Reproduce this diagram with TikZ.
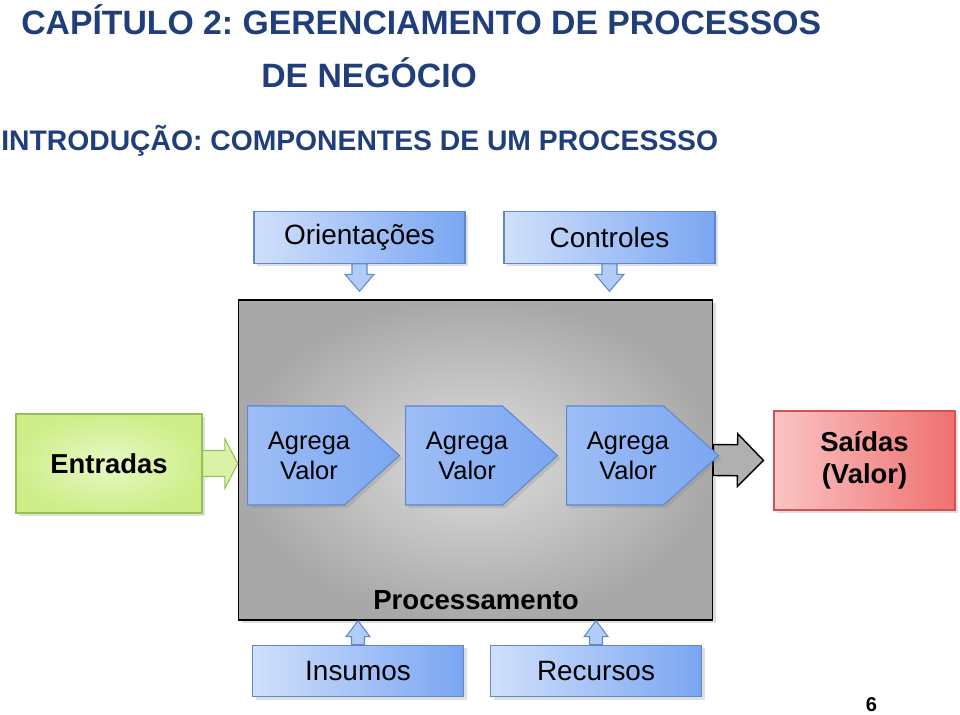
\documentclass[tikz,border=0pt]{standalone}
\usepackage{fontspec}
\setmainfont{Liberation Sans}
\usepackage{tikz}
\usetikzlibrary{calc,shapes.symbols,shadows}
\frenchspacing
\definecolor{titleblue}{RGB}{32,62,122}
\definecolor{boxlight}{RGB}{208,224,251}
\definecolor{boxdark}{RGB}{122,166,242}
\definecolor{boxline}{RGB}{95,135,205}
\definecolor{chevleft}{RGB}{158,190,245}
\definecolor{arrfill}{RGB}{178,204,248}
\definecolor{greenlight}{RGB}{232,248,196}
\definecolor{greendark}{RGB}{206,238,138}
\definecolor{greenline}{RGB}{150,192,82}
\definecolor{redlight}{RGB}{250,196,196}
\definecolor{reddark}{RGB}{240,112,112}
\definecolor{redline}{RGB}{210,82,82}
\tikzset{
  ttl/.style={anchor=base west,inner sep=0pt,text=titleblue,font=\bfseries\fontsize{19.2}{22}\selectfont},
  subttl/.style={anchor=base west,inner sep=0pt,text=titleblue,font=\bfseries\fontsize{16.1}{19}\selectfont},
  shd/.style={drop shadow={opacity=0.25,shadow xshift=0.6mm,shadow yshift=-0.6mm}},
  bbox/.style={rectangle,draw=boxline,semithick,left color=boxlight,right color=boxdark,
    minimum width=42.2mm,minimum height=10.3mm,font=\fontsize{15.9}{19}\selectfont,shd},
  procbox/.style={rectangle,draw=black,thick,inner color=gray!26,outer color=gray!68,
    minimum width=94.8mm,minimum height=64mm,shd},
  inbox/.style={rectangle,draw=greenline,semithick,inner color=greenlight,outer color=greendark,
    minimum width=37.2mm,minimum height=19.8mm,font=\bfseries\fontsize{15.6}{19}\selectfont,shd},
  outbox/.style={rectangle,draw=redline,semithick,left color=redlight,right color=reddark,
    minimum width=36.2mm,minimum height=19.8mm,align=center,
    font=\bfseries\fontsize{15.6}{18.5}\selectfont,shd},
  chev/.style={signal,signal to=east,signal pointer angle=84,draw=boxline,semithick,
    left color=chevleft,middle color=boxlight,right color=boxdark,anchor=west,
    minimum width=30.4mm,minimum height=19.8mm,inner sep=0pt,shd,
    label={[chevtxt]center:Agrega\\Valor}},
  chevtxt/.style={align=center,xshift=2.6mm,inner sep=0pt,font=\fontsize{14.5}{17}\selectfont},
  plbl/.style={anchor=base,inner sep=0pt,font=\bfseries\fontsize{15.7}{18}\selectfont},
  barr/.style={draw=boxline,semithick,fill=arrfill},
  earr/.style={draw=greenline,semithick,fill=greendark!75!white},
  garr/.style={draw=black,thick,fill=gray!62}
}
% block arrow: style, from, to, half stem, half head, head length
\newcommand{\blockarr}[6]{%
  \coordinate (bah) at ($(#3)!#6!(#2)$);
  \draw[#1] ($(#2)!#4!90:(#3)$) -- ($(bah)!#4!90:(#3)$) -- ($(bah)!#5!90:(#3)$)
    -- (#3) -- ($(bah)!#5!-90:(#3)$) -- ($(bah)!#4!-90:(#3)$)
    -- ($(#2)!#4!-90:(#3)$) -- cycle;
}

\begin{document}
\begin{tikzpicture}[x=0.2mm,y=-0.2mm]
\useasboundingbox (0,0) rectangle (960,714);
% titles
\node[ttl] (t1) at (21,35) {CAPÍTULO 2: GERENCIAMENTO DE PROCESSOS};
\node[ttl] (t2) at (261,87) {DE NEGÓCIO};
\node[subttl] (t3) at (1,150) {INTRODUÇÃO: COMPONENTES DE UM PROCESSSO};
% processing block
\node[procbox] (proc) at (475.5,460) {};
\node[plbl] (plabel) at (476,609) {Processamento};
% top inputs
\node[bbox] (ori) at (359.5,237.5) {Orientações};
\node[bbox] (con) at (609.5,237.5) {Controles};
\coordinate (oritip) at ($(ori.south |- proc.north)+(0,-8)$);
\coordinate (contip) at ($(con.south |- proc.north)+(0,-8)$);
\blockarr{barr}{ori.south}{oritip}{1.5mm}{2.9mm}{3.4mm}
\blockarr{barr}{con.south}{contip}{1.5mm}{2.9mm}{3.4mm}
% entradas / saidas
\node[inbox] (ent) at (109,463.5) {Entradas};
\blockarr{earr}{ent.east}{ent.east -| proc.west}{2.6mm}{5mm}{2.6mm}
\node[outbox] (sai) at (864.5,460.5) {Saídas\\(Valor)};
\coordinate (outtip) at ($(sai.west)+(-10,0)$);
\blockarr{garr}{proc.east}{outtip}{3.1mm}{5.3mm}{5.2mm}
% value steps
\node[chev] (c1) at (247,455.5) {};
\node[chev] (c2) at (405,455.5) {};
\node[chev] (c3) at (566,455.5) {};
% bottom inputs
\node[bbox] (ins) at (358,671) {Insumos};
\node[bbox] (rec) at (596,671) {Recursos};
\blockarr{barr}{ins.north}{ins.north |- proc.south}{1.3mm}{2.4mm}{3.2mm}
\blockarr{barr}{rec.north}{rec.north |- proc.south}{1.3mm}{2.4mm}{3.2mm}
% page number
\node[anchor=base,inner sep=0pt,font=\bfseries\fontsize{11.4}{13}\selectfont] (pg) at (871.5,711) {6};
\end{tikzpicture}
\end{document}
